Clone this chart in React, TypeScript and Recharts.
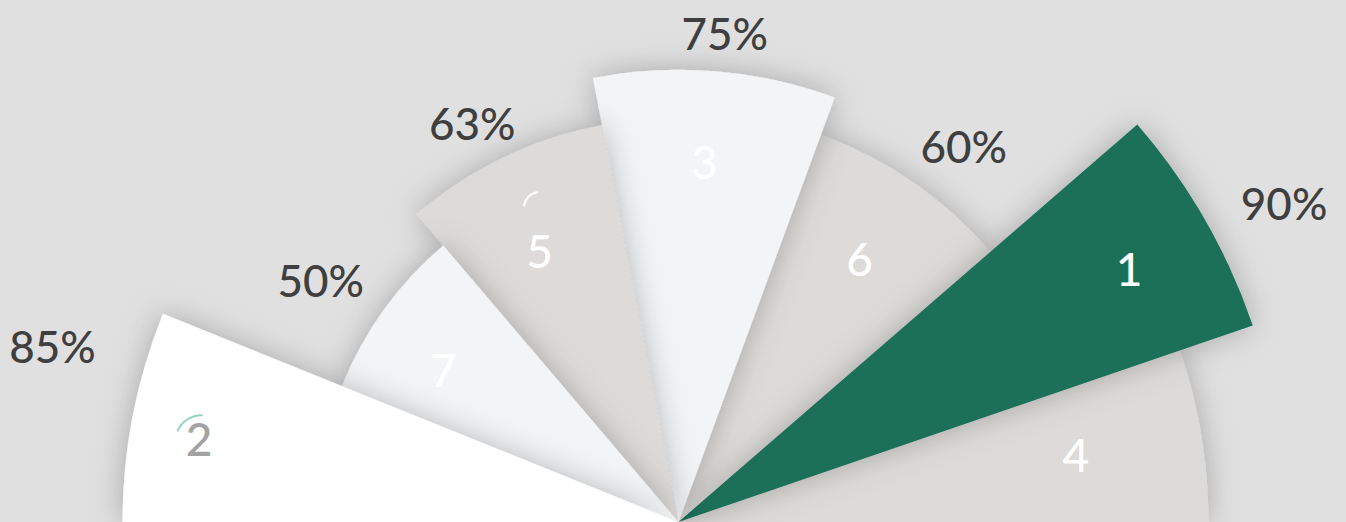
import React from "react";
import { PieChart, Pie, Cell } from "recharts";

// sectors listed clockwise from the left edge (180deg) to the right edge (0deg)
const ranks = ["2", "7", "5", "3", "6", "1", "4"];
const shares = [22.0, 27.6, 29.5, 31.1, 28.9, 22.0, 18.9]; // angular share
const reach = [91.6, 59.8, 66.6, 74.5, 68.0, 100, 87.3]; // radial length, % of the longest
const percentLabels = ["85%", "50%", "63%", "75%", "60%", "90%", null];

const rows = ranks.map((rank, i) => ({
  rank,
  share: shares[i],
  reach: reach[i],
  pct: percentLabels[i],
}));

const W = 1346;
const H = 522;
const CX = 678.5;
const CY = 522;
const MAX_R = 607;
const RAD = Math.PI / 180;

const fills = ["#ffffff", "#f3f4f6", "#dcdbd9", "#f3f4f6", "#dcdbd9", "#1b6f59", "#dcdbd9"];
const numberColors = ["#a3a3a3", "#ffffff", "#ffffff", "#ffffff", "#ffffff", "#ffffff", "#ffffff"];
// paint order, bottom to top
const zOrder = [6, 4, 5, 3, 2, 1, 0];

// label placement tweaks: [angle shift in deg, gap beyond the arc]
const pctNudge = [[-4.6, 94], [1.9, 68], [1.75, 44], [-0.75, 38], [-2.65, 58], [-2.2, 77], [0, 0]];
// [angle shift in deg, fraction of the sector radius]
const numNudge = [[1.2, 0.875], [3.1, 0.771], [1.55, 0.752], [0.55, 0.797], [0, 0.772], [-0.6, 0.851], [0, 0.76]];

const FONT = "Lato, 'Noto Sans', sans-serif";

const radiusOf = (v: number) => (v / 100) * MAX_R;
const polar = (r: number, a: number) => ({
  x: CX + r * Math.cos(a * RAD),
  y: CY - r * Math.sin(a * RAD),
});

const renderLabels = (props: any) => {
  const { index, midAngle } = props;
  const outer = radiusOf(reach[index]);
  const [na, nf] = numNudge[index];
  const n = polar(outer * nf, midAngle + na);
  const [pa, pg] = pctNudge[index];
  const p = polar(outer + pg, midAngle + pa);
  const pct = percentLabels[index];
  return (
    <g key={`lbl-${index}`}>
      {index === 0 && (
        <path
          d={`M ${n.x - 21.3} ${n.y - 8.7} A 26 26 0 0 1 ${n.x + 2.7} ${n.y - 24}`}
          fill="none"
          stroke="#8fd3c0"
          strokeWidth={2}
          strokeLinecap="round"
        />
      )}
      {index === 2 && (
        <path
          d={`M ${n.x - 15.5} ${n.y - 46} A 16 16 0 0 1 ${n.x - 2.2} ${n.y - 59.3}`}
          fill="none"
          stroke="#ffffff"
          strokeWidth={2}
          strokeLinecap="round"
        />
      )}
      <text
        x={n.x}
        y={n.y}
        dy="0.36em"
        textAnchor="middle"
        fill={numberColors[index]}
        fontSize={46}
        fontWeight={500}
        fontFamily={FONT}
      >
        {ranks[index]}
      </text>
      {pct && (
        <text
          x={p.x}
          y={p.y}
          dy="0.36em"
          textAnchor="middle"
          fill="#3f3f3f"
          fontSize={44}
          fontWeight={500}
          fontFamily={FONT}
        >
          {pct}
        </text>
      )}
    </g>
  );
};

export default function App() {
  return (
    <div
      style={{
        position: "absolute",
        left: 0,
        top: 0,
        width: W,
        height: H,
        background: "#e0e0e0",
        overflow: "hidden",
      }}
    >
      <PieChart width={W} height={H} margin={{ top: 0, right: 0, bottom: 0, left: 0 }}>
        <defs>
          <filter id="sectorShadow" x="-30%" y="-30%" width="160%" height="160%">
            <feDropShadow dx="0" dy="0" stdDeviation="15" floodColor="#000" floodOpacity="0.25" />
          </filter>
        </defs>
        {zOrder.map((k) => (
          <Pie
            key={`sector-${k}`}
            data={rows}
            dataKey="share"
            nameKey="rank"
            cx={CX}
            cy={CY}
            startAngle={180}
            endAngle={0}
            innerRadius={0}
            outerRadius={radiusOf(reach[k])}
            stroke="none"
            isAnimationActive={false}
          >
            {rows.map((r, i) => (
              <Cell
                key={`c-${k}-${i}`}
                fill={i === k ? fills[i] : "transparent"}
                filter={i === k ? "url(#sectorShadow)" : undefined}
              />
            ))}
          </Pie>
        ))}
        <Pie
          data={rows}
          dataKey="share"
          nameKey="rank"
          cx={CX}
          cy={CY}
          startAngle={180}
          endAngle={0}
          innerRadius={0}
          outerRadius={10}
          fill="transparent"
          stroke="none"
          label={renderLabels}
          labelLine={false}
          isAnimationActive={false}
        />
      </PieChart>
    </div>
  );
}
